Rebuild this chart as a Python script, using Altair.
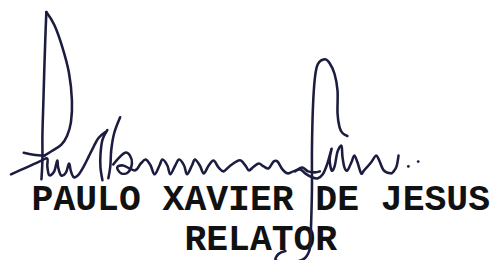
import altair as alt
import pandas as pd

# Signature strokes (pixel positions of the scan)
p_stem_x = [47, 46, 45, 44, 43, 43, 42]
p_stem_y = [10, 35, 65, 100, 135, 160, 180]

p_bowl_x = [47, 55, 63, 70, 73, 72, 68, 62, 53, 45]
p_bowl_y = [10, 23, 45, 72, 100, 122, 136, 145, 151, 156]

dash_x = [24, 34, 45]
dash_y = [153, 155, 156]

aul_x = [11, 27, 42, 48, 48, 50, 55, 58, 59, 62, 67, 70, 72, 75, 80, 85, 90, 95, 100, 107]
aul_y = [175, 168, 161, 159, 167, 176, 172, 161, 168, 176, 173, 164, 172, 178, 175, 167, 157, 147, 138, 132]

l_down_x = [109, 104, 102, 102, 104]
l_down_y = [130, 140, 155, 168, 181]

k_up_x = [110, 112, 113, 116, 122]
k_up_y = [179, 167, 150, 133, 117]

waves_x = [115, 120, 127, 132, 134, 130, 123, 119, 125, 137, 143, 148, 153, 157, 162, 165, 170, 173,
           178, 182, 187, 190, 195, 198, 203, 207, 212, 217, 222, 227, 233, 240, 245, 250, 253, 258,
           263, 268, 273, 278, 282, 287, 292, 298, 305, 310, 317, 323, 328, 332, 335, 337, 335, 337,
           340, 343, 347, 348, 350, 353, 357, 360, 363, 367, 370, 377, 382, 385, 390, 397, 400, 403, 405]
waves_y = [165, 159, 153, 156, 164, 173, 174, 168, 166, 171, 164, 160, 166, 175, 166, 160, 166, 175,
           166, 160, 166, 175, 166, 160, 166, 174, 166, 161, 168, 172, 167, 162, 161, 167, 171, 167,
           164, 167, 169, 162, 162, 170, 174, 172, 170, 174, 178, 179, 175, 166, 156, 149, 160, 171,
           167, 152, 146, 157, 168, 171, 163, 156, 162, 174, 171, 163, 156, 160, 171, 174, 172, 167, 156]

cross_x = [300, 307, 313, 320, 325]
cross_y = [172, 168, 172, 173, 172]

j_x = [353, 348, 345, 343, 343, 340, 335, 330, 323, 320, 318, 317, 317, 316, 315, 310, 300, 288, 280, 283, 290]
j_y = [136, 133, 127, 113, 90, 73, 62, 58, 63, 77, 107, 150, 190, 230, 250, 260, 264, 264, 262, 256, 253]

dots_x = [415, 425]
dots_y = [167, 162]

labels = ["PAULO XAVIER DE JESUS", "RELATOR"]
label_x = [265, 265]
label_y = [211, 252]

strokes = {
    "p_stem": (p_stem_x, p_stem_y),
    "p_bowl": (p_bowl_x, p_bowl_y),
    "dash": (dash_x, dash_y),
    "aul": (aul_x, aul_y),
    "l_down": (l_down_x, l_down_y),
    "k_up": (k_up_x, k_up_y),
    "waves": (waves_x, waves_y),
    "cross": (cross_x, cross_y),
    "j": (j_x, j_y),
}
rows = []
for name, (xs, ys) in strokes.items():
    for i, (x, y) in enumerate(zip(xs, ys)):
        rows.append({"stroke": name, "i": i, "x": x, "y": y})
lines_df = pd.DataFrame(rows)
dots_df = pd.DataFrame({"x": dots_x, "y": dots_y})
text_df = pd.DataFrame({"label": labels, "x": label_x, "y": label_y})

xs = alt.Scale(domain=[8, 498])
ys = alt.Scale(domain=[8, 260], reverse=True)

ink = "#1c1c40"

lines = alt.Chart(lines_df).mark_line(
    interpolate="cardinal", strokeWidth=2.6, color=ink, strokeCap="round", strokeJoin="round"
).encode(
    x=alt.X("x:Q", scale=xs, axis=None),
    y=alt.Y("y:Q", scale=ys, axis=None),
    detail="stroke:N",
    order="i:Q",
)

dots = alt.Chart(dots_df).mark_circle(size=8, color=ink, opacity=1).encode(
    x=alt.X("x:Q", scale=xs, axis=None),
    y=alt.Y("y:Q", scale=ys, axis=None),
)

text = alt.Chart(text_df).mark_text(
    font="Liberation Mono", fontWeight="bold", fontSize=37, align="center",
    baseline="alphabetic", color="#111111"
).encode(
    x=alt.X("x:Q", scale=xs, axis=None),
    y=alt.Y("y:Q", scale=ys, axis=None),
    text="label:N",
)

chart = alt.layer(text, lines, dots).properties(
    width=490, height=252, autosize=alt.AutoSizeParams(type="none"), padding=0,
    background="white",
).configure_view(stroke=None)

chart.save("out.html", embed_options={"renderer": "svg", "actions": False})
